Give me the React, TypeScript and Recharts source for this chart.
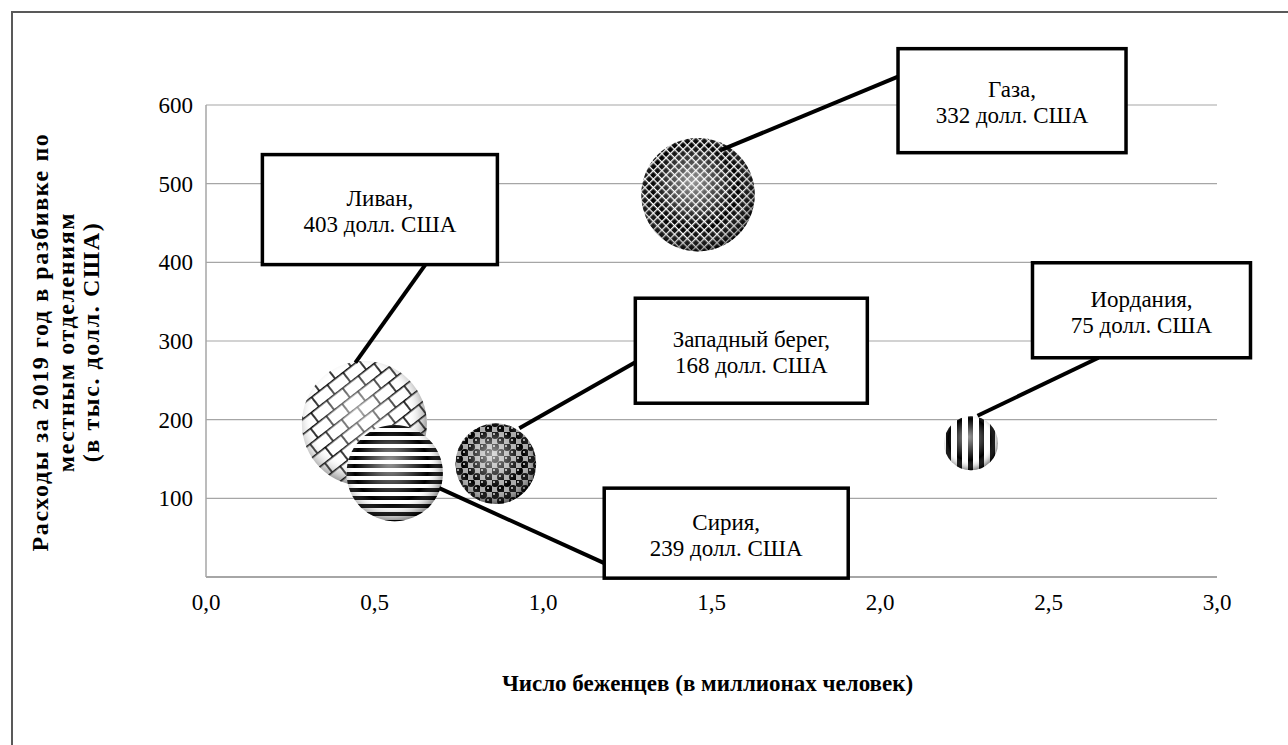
import React from 'react';
import { ScatterChart, Scatter, XAxis, YAxis, ZAxis, CartesianGrid, Label } from 'recharts';

// ---- data ----
const countries = ['Ливан', 'Сирия', 'Западный берег', 'Газа', 'Иордания'];
const refugeesMillions = [0.47, 0.56, 0.86, 1.46, 2.27];
const spending2019 = [195, 132, 144, 486, 170];
const costPerRefugee = [403, 239, 168, 332, 75];
const xTicks = [0, 0.5, 1, 1.5, 2, 2.5, 3];
const yTicks = [100, 200, 300, 400, 500, 600];
const currencyLabel = 'долл. США';
const xTitle = 'Число беженцев (в миллионах человек)';
const yTitleLines = ['Расходы за 2019 год в разбивке по', 'местным отделениям', '(в тыс. долл. США)'];

const data = countries.map((name, i) => ({
  name,
  x: refugeesMillions[i],
  y: spending2019[i],
  z: costPerRefugee[i],
}));

// ---- styles / layout ----
const FONT = '"Liberation Serif", "Times New Roman", serif';
const GRID = '#a6a6a6';

const bubblePattern: Record<string, string> = {
  'Ливан': 'pBrick',
  'Сирия': 'pHStripe',
  'Западный берег': 'pDots',
  'Газа': 'pMesh',
  'Иордания': 'pVStripe',
};

// pixel offsets relative to bubble centre
const callout: Record<string, { bx: number; by: number; w: number; h: number; from: [number, number]; to: [number, number] }> = {
  'Ливан': { bx: 15.5, by: -214, w: 235, h: 110, from: [-9, -61], to: [61, -159] },
  'Сирия': { bx: 331.5, by: 60, w: 244, h: 90, from: [44.5, 15], to: [209.5, 90] },
  'Западный берег': { bx: 255.5, by: -113, w: 232, h: 105, from: [23.5, -35.5], to: [139.5, -101.5] },
  'Газа': { bx: 314, by: -94, w: 228, h: 104, from: [24, -45], to: [200, -118] },
  'Иордания': { bx: 170.5, by: -133, w: 218, h: 95, from: [6.5, -27.5], to: [127.5, -85.5] },
};

const Defs = () => (
  <defs>
    <pattern id="pBrick" width="20" height="24" patternUnits="userSpaceOnUse" patternTransform="rotate(-38)">
      <rect width="20" height="24" fill="#fff" />
      <path d="M0 0.8H20 M0 12.8H20 M1 0V12.8 M11 12.8V24" stroke="#000" strokeWidth="1.6" fill="none" />
    </pattern>
    <pattern id="pHStripe" width="8" height="8" patternUnits="userSpaceOnUse">
      <rect width="8" height="8" fill="#fff" />
      <rect width="8" height="4" fill="#000" />
    </pattern>
    <pattern id="pVStripe" width="11" height="11" patternUnits="userSpaceOnUse">
      <rect width="11" height="11" fill="#fff" />
      <rect width="5" height="11" fill="#000" />
    </pattern>
    <pattern id="pDots" width="12" height="12" patternUnits="userSpaceOnUse">
      <rect width="12" height="12" fill="#f2f2f2" />
      <rect x="0" y="6" width="6" height="6" fill="#aaa" />
      <rect x="6" y="0" width="6" height="6" fill="#aaa" />
      <circle cx="3" cy="3" r="4" fill="#000" />
      <circle cx="9" cy="9" r="4" fill="#000" />
      <circle cx="2" cy="2" r="1" fill="#ddd" />
      <circle cx="8" cy="8" r="1" fill="#ddd" />
    </pattern>
    <pattern id="pMesh" width="6" height="6" patternUnits="userSpaceOnUse" patternTransform="rotate(45)">
      <rect width="6" height="6" fill="#000" />
      <rect x="0" y="0" width="6" height="1.3" fill="#fff" />
      <rect x="0" y="0" width="1.3" height="6" fill="#fff" />
    </pattern>
    <radialGradient id="shade" cx="0.47" cy="0.45" r="0.55" fx="0.45" fy="0.38">
      <stop offset="0" stopColor="#fff" stopOpacity="0.6" />
      <stop offset="0.35" stopColor="#fff" stopOpacity="0.3" />
      <stop offset="0.7" stopColor="#fff" stopOpacity="0" />
      <stop offset="1" stopColor="#000" stopOpacity="0.45" />
    </radialGradient>
  </defs>
);

const Bubble = (props: any) => {
  const { cx, cy, payload } = props;
  const r = props.width ? props.width / 2 : Math.sqrt((props.size || 0) / Math.PI);
  const pid = bubblePattern[payload.name];
  return (
    <g>
      <circle cx={cx} cy={cy} r={r} fill="#fff" />
      <circle cx={cx} cy={cy} r={r} fill={`url(#${pid})`} />
      <circle cx={cx} cy={cy} r={r} fill="url(#shade)" />
    </g>
  );
};

const Callout = (props: any) => {
  const { cx, cy, payload } = props;
  const L = callout[payload.name];
  const bx = cx + L.bx;
  const by = cy + L.by;
  return (
    <g>
      <line x1={cx + L.from[0]} y1={cy + L.from[1]} x2={cx + L.to[0]} y2={cy + L.to[1]} stroke="#000" strokeWidth={4} />
      <rect x={bx - L.w / 2} y={by - L.h / 2} width={L.w} height={L.h} fill="#fff" stroke="#000" strokeWidth={3.5} />
      <text x={bx} y={by - 11} textAnchor="middle" dominantBaseline="central" fontSize={23} fontFamily={FONT} fill="#000">
        {payload.name},
      </text>
      <text x={bx} y={by + 15} textAnchor="middle" dominantBaseline="central" fontSize={23} fontFamily={FONT} fill="#000">
        {`${payload.z} ${currencyLabel}`}
      </text>
    </g>
  );
};

const YTitle = (props: any) => {
  const vb = props.viewBox || { x: 0, y: 0, width: 0, height: 0 };
  const cy = vb.y + vb.height / 2 + 1;
  const xs = [40, 66, 91];
  return (
    <g>
      {yTitleLines.map((t, i) => (
        <text
          key={i}
          x={xs[i]}
          y={cy}
          transform={`rotate(-90 ${xs[i]} ${cy})`}
          textAnchor="middle"
          dominantBaseline="central"
          fontSize={24}
          letterSpacing={1.6}
          fontWeight="bold"
          fontFamily={FONT}
          fill="#000"
        >
          {t}
        </text>
      ))}
    </g>
  );
};

const XTitle = (props: any) => {
  const vb = props.viewBox || { x: 0, y: 0, width: 0, height: 0 };
  return (
    <text
      x={vb.x + vb.width / 2 - 4}
      y={vb.y + 106}
      textAnchor="middle"
      dominantBaseline="central"
      fontSize={23}
      fontWeight="bold"
      fontFamily={FONT}
      fill="#000"
    >
      {xTitle}
    </text>
  );
};

export default function App() {
  return (
    <div style={{ position: 'absolute', left: 0, top: 0, width: 1288, height: 745, overflow: 'hidden', background: '#fff' }}>
      <div
        style={{
          position: 'absolute',
          left: 11,
          top: 11,
          width: 1400,
          height: 900,
          borderLeft: '2px solid #595959',
          borderTop: '2px solid #595959',
        }}
      />
      <div style={{ position: 'absolute', left: 0, top: 0 }}>
        <ScatterChart width={1288} height={745} margin={{ top: 105, right: 71, bottom: 138, left: 146 }}>
          <Defs />
          <CartesianGrid vertical={false} stroke={GRID} strokeWidth={1.2} />
          <XAxis
            type="number"
            dataKey="x"
            domain={[0, 3]}
            ticks={xTicks}
            height={30}
            tickFormatter={(v: number) => v.toFixed(1).replace('.', ',')}
            axisLine={{ stroke: GRID, strokeWidth: 2 }}
            tickLine={false}
            tickSize={0}
            tickMargin={17}
            tick={{ fill: '#000', fontSize: 23, fontFamily: FONT }}
          >
            <Label content={XTitle} />
          </XAxis>
          <YAxis
            type="number"
            dataKey="y"
            domain={[0, 600]}
            ticks={yTicks}
            width={60}
            axisLine={{ stroke: GRID, strokeWidth: 1.5 }}
            tickLine={false}
            tickSize={0}
            tickMargin={13}
            tick={{ fill: '#000', fontSize: 23, fontFamily: FONT }}
          >
            <Label content={YTitle} />
          </YAxis>
          <ZAxis type="number" dataKey="z" domain={[0, 'dataMax']} range={[0, 12270]} />
          <Scatter data={data} shape={Bubble} isAnimationActive={false} />
          <Scatter data={data} shape={Callout} isAnimationActive={false} />
        </ScatterChart>
      </div>
    </div>
  );
}
